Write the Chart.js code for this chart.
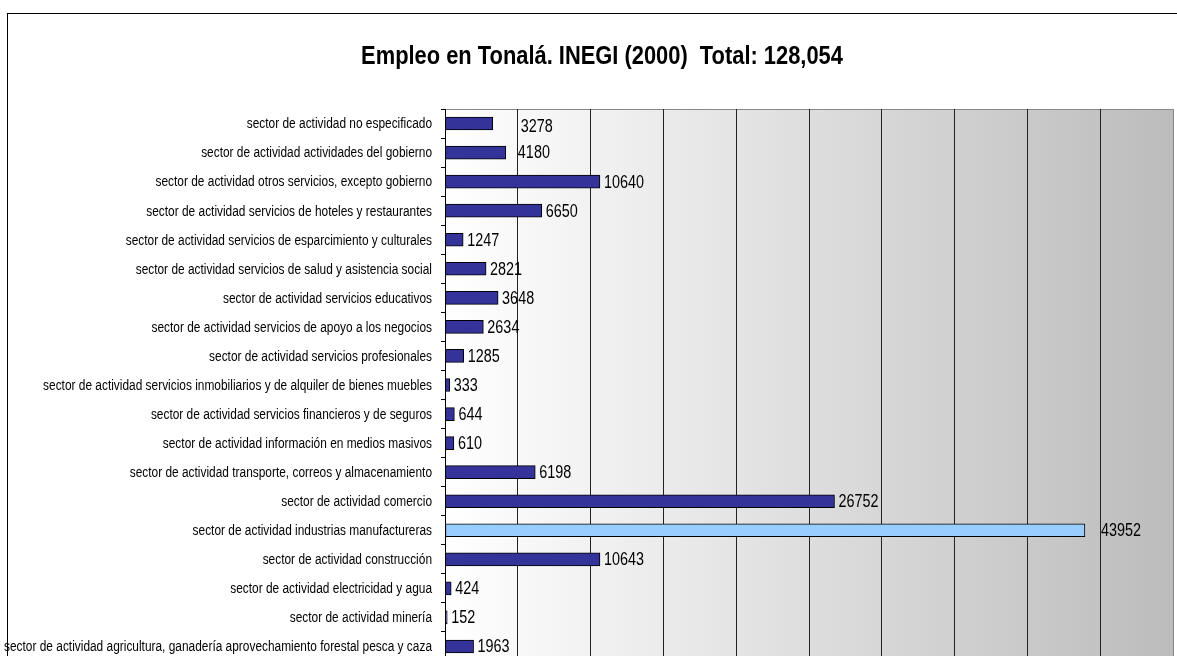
<!DOCTYPE html>
<html>
<head>
<meta charset="utf-8">
<title>Empleo en Tonalá</title>
<script src="https://cdn.jsdelivr.net/npm/chart.js@4.4.1/dist/chart.umd.min.js"></script>
<style>
  html, body { margin: 0; padding: 0; background: #fff; overflow: hidden; }
  canvas { display: block; }
</style>
</head>
<body>
<canvas id="main-chart"></canvas>
<script>
const categories = [
  "sector de actividad no especificado",
  "sector de actividad actividades del gobierno",
  "sector de actividad otros servicios, excepto gobierno",
  "sector de actividad servicios de hoteles y restaurantes",
  "sector de actividad servicios de esparcimiento y culturales",
  "sector de actividad servicios de salud y asistencia social",
  "sector de actividad servicios educativos",
  "sector de actividad servicios de apoyo a los negocios",
  "sector de actividad servicios profesionales",
  "sector de actividad servicios inmobiliarios y de alquiler de bienes muebles",
  "sector de actividad servicios financieros y de seguros",
  "sector de actividad información en medios masivos",
  "sector de actividad transporte, correos y almacenamiento",
  "sector de actividad comercio",
  "sector de actividad industrias manufactureras",
  "sector de actividad construcción",
  "sector de actividad electricidad y agua",
  "sector de actividad minería",
  "sector de actividad agricultura, ganadería aprovechamiento forestal pesca y caza"
];
const employees = [3278, 4180, 10640, 6650, 1247, 2821, 3648, 2634, 1285, 333, 644, 610, 6198, 26752, 43952, 10643, 424, 152, 1963];
const axisMax = 50000;
const axisStep = 5000;
const chartTitle = "Empleo en Tonalá. INEGI (2000)  Total: 128,054";

// Excel placed a few labels a bit off the bar end
const labelNudge = { 0: [24, 3], 1: [8, -1], 14: [12, 0] };

const font = "'Liberation Sans', Arial, sans-serif";
const biggest = Math.max(...employees);

// the original uses a condensed Arial; squeeze regular glyphs horizontally
function narrowText(ctx, text, x, y, size, weight, squeeze, align) {
  ctx.save();
  ctx.font = (weight ? weight + ' ' : '') + size + 'px ' + font;
  ctx.textBaseline = 'middle';
  ctx.textAlign = align;
  ctx.translate(x, y);
  ctx.scale(squeeze, 1);
  ctx.fillText(text, 0, 0);
  ctx.restore();
}

const excelLook = {
  id: 'excelLook',
  beforeDraw(chart) {
    const ctx = chart.ctx;
    const a = chart.chartArea;
    ctx.save();
    ctx.fillStyle = '#fff';
    ctx.fillRect(0, 0, chart.width, chart.height);
    ctx.strokeStyle = '#000';
    ctx.lineWidth = 1;
    ctx.strokeRect(7.5, 13.5, chart.width + 20, chart.height + 20);
    const g = ctx.createLinearGradient(a.left, 0, a.right, 0);
    g.addColorStop(0, '#ffffff');
    g.addColorStop(1, '#bcbcbc');
    ctx.fillStyle = g;
    ctx.fillRect(a.left, a.top, a.right - a.left, a.bottom - a.top);
    ctx.strokeStyle = '#888';
    ctx.beginPath();
    ctx.moveTo(a.left, a.top + 0.5);
    ctx.lineTo(a.right + 0.5, a.top + 0.5);
    ctx.lineTo(a.right + 0.5, a.bottom);
    ctx.stroke();
    ctx.restore();
  },
  afterDraw(chart) {
    const ctx = chart.ctx;
    const y = chart.scales.y;
    ctx.save();
    ctx.fillStyle = '#000';
    narrowText(ctx, chartTitle, 602, 57, 25, 'bold', 0.875, 'center');
    categories.forEach((c, i) => {
      narrowText(ctx, c, y.right - 13, y.getPixelForValue(i) + 1, 14, '', 0.85, 'right');
    });
    chart.getDatasetMeta(0).data.forEach((bar, i) => {
      const n = labelNudge[i] || [0, 0];
      narrowText(ctx, String(employees[i]), bar.x + 4 + n[0], bar.y + 1 + n[1], 18, '', 0.8, 'left');
    });
    ctx.restore();
  }
};

document.addEventListener("DOMContentLoaded", () => {
  const canvas1 = document.getElementById("main-chart");
  canvas1.setAttribute('width', '1177');
  canvas1.setAttribute('height', '700');

  new Chart(canvas1, {
    type: 'bar',
    data: {
      labels: categories,
      datasets: [{
        data: employees,
        backgroundColor: c => c.raw === biggest ? '#99ccff' : '#333399',
        borderColor: '#000',
        borderWidth: 1,
        borderSkipped: false,
        barThickness: 13
      }]
    },
    options: {
      indexAxis: 'y',
      responsive: false,
      animation: false,
      devicePixelRatio: 1,
      layout: { padding: { left: 0, right: 4, top: 109, bottom: 39 } },
      plugins: {
        legend: { display: false },
        tooltip: { enabled: false },
        title: { display: false }
      },
      scales: {
        x: {
          min: 0,
          max: axisMax,
          ticks: { display: false, stepSize: axisStep },
          grid: {
            drawTicks: false,
            color: c => c.tick && c.tick.value === axisMax ? '#888' : '#222',
            lineWidth: 1
          },
          border: { display: false },
          afterFit: s => { s.height = 0; }
        },
        y: {
          offset: true,
          ticks: { display: false, autoSkip: false },
          grid: {
            offset: true,
            drawOnChartArea: false,
            tickLength: 4,
            color: '#000'
          },
          border: { display: true, color: '#000', width: 1 },
          afterFit: s => { s.width = 445; }
        }
      }
    },
    plugins: [excelLook]
  });
});
</script>
</body>
</html>
